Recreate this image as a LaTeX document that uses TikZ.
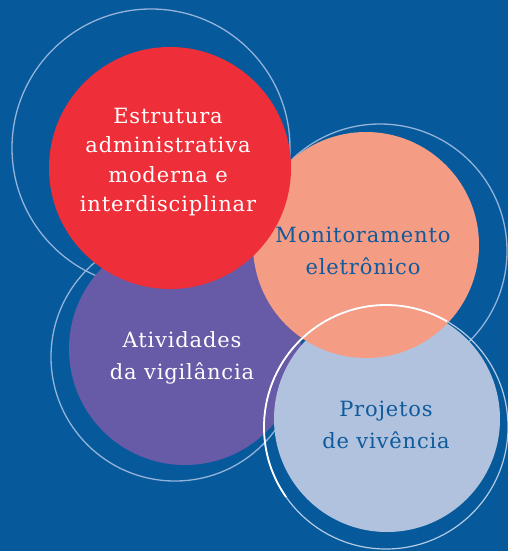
\documentclass[tikz,border=0pt]{standalone}
\usepackage{fontspec}
\setmainfont{DejaVu Serif}[LetterSpace=4]
\usetikzlibrary{positioning}
\definecolor{bgblue}{HTML}{065A9B}
\definecolor{redc}{HTML}{EE2E38}
\definecolor{purplec}{HTML}{675BA7}
\definecolor{salmonc}{HTML}{F59C85}
\definecolor{paleblue}{HTML}{B0C2DD}
\definecolor{ringc}{HTML}{94B3DA}
\definecolor{inkblue}{HTML}{0E5A9C}
\begin{document}
\begin{tikzpicture}
  [x=1pt, y=-1pt,
   disc/.style={circle, minimum size=#1, inner sep=0pt},
   ring/.style={draw=ringc, line width=1.3pt},
   label/.style={align=center, font=\fontsize{21}{31.5}\selectfont}]
  \fill [bgblue] (0,0) rectangle (508,551);
  \useasboundingbox (0,0) rectangle (508,551);
  % outer rings behind the discs
  \draw [ring] (151,148) circle (139);
  \draw [ring] (175,357) circle (124);
  \draw [ring] (380,251) circle (127);
  % discs
  \node (vig) at (185,349) [disc=232pt, fill=purplec] {};
  \node (proj) at (387,419) [disc=226pt, fill=paleblue] {};
  \node (mon) at (366,245) [disc=226pt, fill=salmonc] {};
  \node (est) at (170,168) [disc=242pt, fill=redc] {};
  % ring over the last disc
  \draw [draw=ringc!70!white, line width=1.2pt] (386,427) circle (122);
  \draw [white, line width=1.8pt] (386,427) ++(145:122) arc (145:300:122);
  % texts
  \node (esttext) at (168,162) [label, white, font=\fontsize{21}{29.5}\selectfont]
    {Estrutura\\administrativa\\moderna e\\interdisciplinar};
  \node (vigtext) at (182,358) [label, white] {Atividades\\da vigilância};
  \node (montext) at (363,251) [label, inkblue] {Monitoramento\\eletrônico};
  \node (projtext) at (386,425) [label, inkblue] {Projetos\\de vivência};
\end{tikzpicture}
\end{document}
